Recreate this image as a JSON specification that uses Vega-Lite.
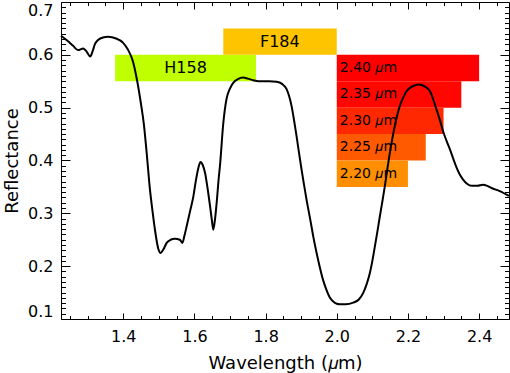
{
  "$schema": "https://vega.github.io/schema/vega-lite/v6.json",
  "autosize": {"type": "none"},
  "width": 448,
  "height": 317,
  "padding": {"left": 61, "top": 2, "right": 1, "bottom": 54},
  "background": "white",
  "config": {
    "view": {"stroke": "#000000", "strokeWidth": 1},
    "font": "DejaVu Sans",
    "axis": {"grid": false, "domain": false, "tickColor": "#000000", "tickWidth": 1, "labelColor": "#000000", "titleColor": "#000000", "labelFont": "DejaVu Sans", "titleFont": "DejaVu Sans", "titleFontWeight": "normal", "labelFontSize": 16, "titleFontSize": 18}
  },
  "datasets": {
    "spectrum": [
      {"w": 1.225, "r": 0.636}, {"w": 1.244, "r": 0.626}, {"w": 1.259, "r": 0.617}, {"w": 1.273, "r": 0.609},
      {"w": 1.287, "r": 0.612}, {"w": 1.296, "r": 0.607}, {"w": 1.307, "r": 0.597}, {"w": 1.314, "r": 0.607},
      {"w": 1.320, "r": 0.620}, {"w": 1.329, "r": 0.628}, {"w": 1.343, "r": 0.633}, {"w": 1.357, "r": 0.634},
      {"w": 1.380, "r": 0.631}, {"w": 1.399, "r": 0.623}, {"w": 1.413, "r": 0.610}, {"w": 1.427, "r": 0.588},
      {"w": 1.439, "r": 0.551}, {"w": 1.450, "r": 0.506}, {"w": 1.458, "r": 0.468}, {"w": 1.465, "r": 0.420},
      {"w": 1.475, "r": 0.345}, {"w": 1.482, "r": 0.305}, {"w": 1.489, "r": 0.269}, {"w": 1.498, "r": 0.234},
      {"w": 1.505, "r": 0.225}, {"w": 1.513, "r": 0.232}, {"w": 1.522, "r": 0.244}, {"w": 1.533, "r": 0.250},
      {"w": 1.545, "r": 0.252}, {"w": 1.559, "r": 0.250}, {"w": 1.566, "r": 0.244}, {"w": 1.572, "r": 0.258},
      {"w": 1.578, "r": 0.275}, {"w": 1.588, "r": 0.305}, {"w": 1.597, "r": 0.332}, {"w": 1.604, "r": 0.362},
      {"w": 1.611, "r": 0.386}, {"w": 1.617, "r": 0.397}, {"w": 1.623, "r": 0.392}, {"w": 1.630, "r": 0.376},
      {"w": 1.637, "r": 0.347}, {"w": 1.644, "r": 0.313}, {"w": 1.649, "r": 0.287}, {"w": 1.653, "r": 0.269},
      {"w": 1.658, "r": 0.290}, {"w": 1.664, "r": 0.332}, {"w": 1.668, "r": 0.365}, {"w": 1.672, "r": 0.392},
      {"w": 1.681, "r": 0.470}, {"w": 1.690, "r": 0.516}, {"w": 1.699, "r": 0.535}, {"w": 1.709, "r": 0.547},
      {"w": 1.722, "r": 0.554}, {"w": 1.737, "r": 0.557}, {"w": 1.750, "r": 0.555}, {"w": 1.765, "r": 0.552},
      {"w": 1.780, "r": 0.550}, {"w": 1.793, "r": 0.550}, {"w": 1.810, "r": 0.550}, {"w": 1.831, "r": 0.549},
      {"w": 1.846, "r": 0.545}, {"w": 1.859, "r": 0.535}, {"w": 1.866, "r": 0.522}, {"w": 1.873, "r": 0.503},
      {"w": 1.880, "r": 0.476}, {"w": 1.887, "r": 0.446}, {"w": 1.894, "r": 0.414}, {"w": 1.901, "r": 0.383},
      {"w": 1.908, "r": 0.354}, {"w": 1.915, "r": 0.326}, {"w": 1.925, "r": 0.290}, {"w": 1.934, "r": 0.256},
      {"w": 1.943, "r": 0.226}, {"w": 1.952, "r": 0.199}, {"w": 1.961, "r": 0.175}, {"w": 1.971, "r": 0.155},
      {"w": 1.980, "r": 0.141}, {"w": 1.990, "r": 0.133}, {"w": 2.000, "r": 0.129}, {"w": 2.009, "r": 0.128},
      {"w": 2.025, "r": 0.128}, {"w": 2.046, "r": 0.131}, {"w": 2.062, "r": 0.137}, {"w": 2.074, "r": 0.149},
      {"w": 2.084, "r": 0.166}, {"w": 2.093, "r": 0.187}, {"w": 2.100, "r": 0.210}, {"w": 2.107, "r": 0.237},
      {"w": 2.114, "r": 0.265}, {"w": 2.121, "r": 0.294}, {"w": 2.128, "r": 0.322}, {"w": 2.135, "r": 0.351},
      {"w": 2.142, "r": 0.383}, {"w": 2.149, "r": 0.414}, {"w": 2.156, "r": 0.441}, {"w": 2.163, "r": 0.465},
      {"w": 2.170, "r": 0.486}, {"w": 2.177, "r": 0.503}, {"w": 2.186, "r": 0.518}, {"w": 2.196, "r": 0.531},
      {"w": 2.205, "r": 0.537}, {"w": 2.215, "r": 0.541}, {"w": 2.230, "r": 0.544}, {"w": 2.242, "r": 0.542},
      {"w": 2.252, "r": 0.538}, {"w": 2.262, "r": 0.531}, {"w": 2.271, "r": 0.516}, {"w": 2.280, "r": 0.497},
      {"w": 2.290, "r": 0.476}, {"w": 2.299, "r": 0.455}, {"w": 2.308, "r": 0.438}, {"w": 2.318, "r": 0.421},
      {"w": 2.327, "r": 0.404}, {"w": 2.337, "r": 0.386}, {"w": 2.346, "r": 0.373}, {"w": 2.355, "r": 0.364},
      {"w": 2.366, "r": 0.356}, {"w": 2.379, "r": 0.352}, {"w": 2.395, "r": 0.352}, {"w": 2.411, "r": 0.354},
      {"w": 2.423, "r": 0.352}, {"w": 2.435, "r": 0.348}, {"w": 2.458, "r": 0.342}, {"w": 2.484, "r": 0.333}
    ],
    "bands": [
      {"label": "H158", "kind": "filter", "x1": 1.377, "x2": 1.773, "center": 1.575, "y1": 0.55, "y2": 0.60, "mid": 0.575},
      {"label": "F184", "kind": "filter", "x1": 1.681, "x2": 2.0, "center": 1.84, "y1": 0.60, "y2": 0.65, "mid": 0.625},
      {"label": "2.40 𝜇m", "kind": "cut", "x1": 2.0, "x2": 2.40, "center": 2.2, "y1": 0.55, "y2": 0.60, "mid": 0.575},
      {"label": "2.35 𝜇m", "kind": "cut", "x1": 2.0, "x2": 2.35, "center": 2.175, "y1": 0.50, "y2": 0.55, "mid": 0.525},
      {"label": "2.30 𝜇m", "kind": "cut", "x1": 2.0, "x2": 2.30, "center": 2.15, "y1": 0.45, "y2": 0.50, "mid": 0.475},
      {"label": "2.25 𝜇m", "kind": "cut", "x1": 2.0, "x2": 2.25, "center": 2.125, "y1": 0.40, "y2": 0.45, "mid": 0.425},
      {"label": "2.20 𝜇m", "kind": "cut", "x1": 2.0, "x2": 2.20, "center": 2.1, "y1": 0.35, "y2": 0.40, "mid": 0.375}
    ]
  },
  "resolve": {"axis": {"x": "independent", "y": "independent"}},
  "layer": [
    {
      "data": {"name": "bands"},
      "mark": {"type": "rect"},
      "encoding": {
        "x": {"field": "x1", "type": "quantitative",
          "scale": {"domain": [1.225, 2.484], "nice": false, "zero": false},
          "axis": {"orient": "bottom", "values": [1.4, 1.6, 1.8, 2.0, 2.2, 2.4], "format": ".1f", "tickSize": -6, "labelPadding": 15, "title": "Wavelength (𝜇m)", "titlePadding": 10}},
        "x2": {"field": "x2"},
        "y": {"field": "y1", "type": "quantitative",
          "scale": {"domain": [0.1, 0.7], "nice": false, "zero": false},
          "axis": {"orient": "left", "values": [0.1, 0.2, 0.3, 0.4, 0.5, 0.6, 0.7], "format": ".1f", "tickSize": -9, "labelPadding": 17, "labelFlush": true, "labelFlushOffset": 0, "title": "Reflectance", "titlePadding": 6}},
        "y2": {"field": "y2"},
        "color": {"field": "label", "type": "nominal", "legend": null,
          "scale": {"domain": ["H158", "F184", "2.40 𝜇m", "2.35 𝜇m", "2.30 𝜇m", "2.25 𝜇m", "2.20 𝜇m"],
                    "range": ["#bfff00", "#ffc400", "#ff0000", "#ff0600", "#ff2800", "#ff5a00", "#ff8f00"]}}
      }
    },
    {
      "data": {"name": "bands"},
      "transform": [{"filter": "datum.kind === 'filter'"}],
      "mark": {"type": "text", "fontSize": 16, "font": "DejaVu Sans", "color": "#000000", "align": "center", "baseline": "middle"},
      "encoding": {
        "x": {"field": "center", "type": "quantitative",
          "axis": {"orient": "top", "values": [1.4, 1.6, 1.8, 2.0, 2.2, 2.4], "labels": false, "tickSize": -7, "title": null}},
        "y": {"field": "mid", "type": "quantitative",
          "axis": {"orient": "right", "values": [0.1, 0.2, 0.3, 0.4, 0.5, 0.6, 0.7], "labels": false, "tickSize": -9, "title": null}},
        "text": {"field": "label"}
      }
    },
    {
      "data": {"name": "bands"},
      "transform": [{"filter": "datum.kind === 'cut'"}],
      "mark": {"type": "text", "fontSize": 14, "font": "DejaVu Sans", "color": "#000000", "align": "left", "baseline": "middle", "dx": 3},
      "encoding": {
        "x": {"field": "x1", "type": "quantitative",
          "axis": {"orient": "bottom", "values": [1.25, 1.3, 1.35, 1.45, 1.5, 1.55, 1.65, 1.7, 1.75, 1.85, 1.9, 1.95, 2.05, 2.1, 2.15, 2.25, 2.3, 2.35, 2.45], "labels": false, "tickSize": -3.5, "title": null}},
        "y": {"field": "mid", "type": "quantitative",
          "axis": {"orient": "left", "values": [0.11,0.12,0.13,0.14,0.15,0.16,0.17,0.18,0.19,0.21,0.22,0.23,0.24,0.25,0.26,0.27,0.28,0.29,0.31,0.32,0.33,0.34,0.35,0.36,0.37,0.38,0.39,0.41,0.42,0.43,0.44,0.45,0.46,0.47,0.48,0.49,0.51,0.52,0.53,0.54,0.55,0.56,0.57,0.58,0.59,0.61,0.62,0.63,0.64,0.65,0.66,0.67,0.68,0.69], "labels": false, "tickSize": -4.5, "title": null}},
        "text": {"field": "label"}
      }
    },
    {
      "data": {"name": "spectrum"},
      "mark": {"type": "line", "color": "#000000", "strokeWidth": 2, "interpolate": "monotone"},
      "encoding": {
        "x": {"field": "w", "type": "quantitative",
          "axis": {"orient": "top", "values": [1.25, 1.3, 1.35, 1.45, 1.5, 1.55, 1.65, 1.7, 1.75, 1.85, 1.9, 1.95, 2.05, 2.1, 2.15, 2.25, 2.3, 2.35, 2.45], "labels": false, "tickSize": -3.5, "title": null}},
        "y": {"field": "r", "type": "quantitative",
          "axis": {"orient": "right", "values": [0.11,0.12,0.13,0.14,0.15,0.16,0.17,0.18,0.19,0.21,0.22,0.23,0.24,0.25,0.26,0.27,0.28,0.29,0.31,0.32,0.33,0.34,0.35,0.36,0.37,0.38,0.39,0.41,0.42,0.43,0.44,0.45,0.46,0.47,0.48,0.49,0.51,0.52,0.53,0.54,0.55,0.56,0.57,0.58,0.59,0.61,0.62,0.63,0.64,0.65,0.66,0.67,0.68,0.69], "labels": false, "tickSize": -4.5, "title": null}},
        "order": {"field": "w", "type": "quantitative"}
      }
    }
  ]
}
